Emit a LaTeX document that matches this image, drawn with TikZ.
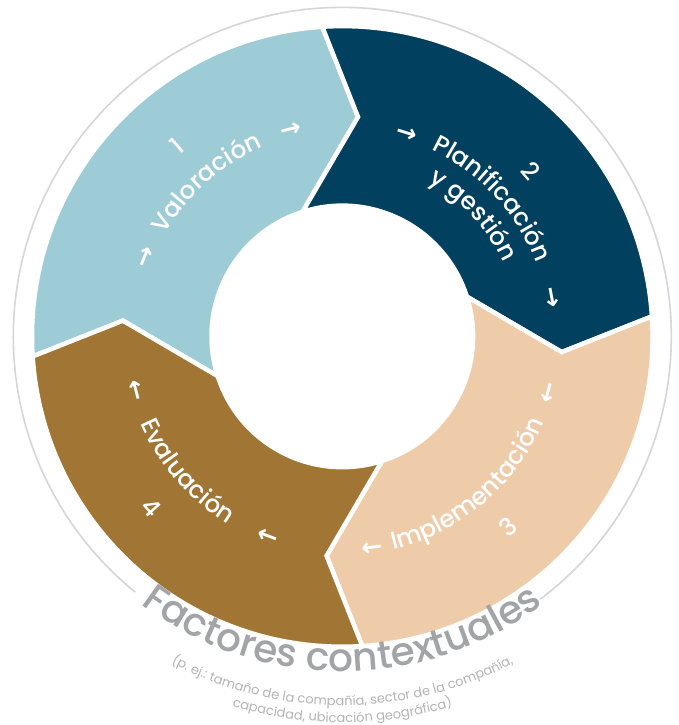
\documentclass[tikz,border=0pt]{standalone}
\usepackage{fontspec}
\setmainfont{Poppins}
\newfontfamily\segfamily{Poppins Medium}
\newfontfamily\arrowfont{DejaVu Sans}
\usetikzlibrary{decorations.text}

\definecolor{valblue}{RGB}{157,204,215}
\definecolor{planblue}{RGB}{1,65,95}
\definecolor{implpeach}{RGB}{238,203,169}
\definecolor{evalbrown}{RGB}{161,117,52}
\definecolor{ringgray}{RGB}{214,214,216}
\definecolor{titlegray}{RGB}{163,164,168}
\definecolor{notegray}{RGB}{180,180,184}

\newcommand{\segfont}{\segfamily\fontsize{24.5}{28}\selectfont}
\newcommand{\titlefont}{\segfamily\fontsize{39}{44}\selectfont}
\newcommand{\notefont}{\fontsize{13}{15}\selectfont}

\tikzset{
  segment/.style={draw=white,line width=4.5pt,line join=miter},
  arw/.style={text=white,font=\arrowfont\bfseries\fontsize{25}{25}\selectfont,inner sep=0pt},
  ringtext/.style={decorate,decoration={text along path,text align=center,text color=white,text={#1}}},
  graytext/.style 2 args={decorate,decoration={text along path,text align=center,text color=#1,text={#2}}},
}

\begin{document}
\begin{tikzpicture}[x=1pt,y=1pt]
\path[fill=white] (-342.3,-388.6) rectangle (335.7,336.4);
\useasboundingbox (-342.3,-388.6) rectangle (335.7,336.4);

% outer context ring
\draw[ringgray,line width=1.6pt] (-53:329) arc[start angle=-53,end angle=231,radius=329];

% the four stages
\foreach \a/\col in {93.7/valblue,3.7/planblue,-86.3/implpeach,183.7/evalbrown}{
  \pgfmathsetmacro{\b}{\a+90}
  \filldraw[segment,fill=\col] (\a:310.3) arc[start angle=\a,end angle=\b,radius=310.3]
    -- (\b-7.8:220) -- (\b+14:130.75) arc[start angle=\b+14,end angle=\a+14,radius=130.75]
    -- (\a-7.8:220) -- cycle;
}

% stage labels
\path[ringtext={|\segfont|1}] (151:243) arc[start angle=151,end angle=111,radius=243];
\path[ringtext={|\segfont|Valoración}] (171.5:205) arc[start angle=171.5,end angle=91.5,radius=205];
\path[ringtext={|\segfont|2}] (81.2:242) arc[start angle=81.2,end angle=1.2,radius=242];
\path[ringtext={|\segfont|Planificación}] (82.6:207) arc[start angle=82.6,end angle=2.6,radius=207];
\path[ringtext={|\segfont|y gestión}] (82.7:177) arc[start angle=82.7,end angle=2.7,radius=177];
\path[ringtext={|\segfont|Implementación}] (-94.8:219) arc[start angle=-94.8,end angle=-4.8,radius=219];
\path[ringtext={|\segfont|3}] (-89:261) arc[start angle=-89,end angle=-9,radius=261];
\path[ringtext={|\segfont|Evaluación}] (181:220) arc[start angle=181,end angle=261,radius=220];
\path[ringtext={|\segfont|4}] (181.9:265) arc[start angle=181.9,end angle=261.9,radius=265];

% flow arrows
\foreach \t [count=\i] in {104,158,72.4,10.6,-82,-15.3,194.8,249.5}
  \node[arw,rotate=\t-90] (arw\i) at (\t:212) {→};

% context caption
\path[graytext={titlegray}{|\titlefont|Factores contextuales}] (195:335) arc[start angle=195,end angle=345,radius=335];
\path[graytext={notegray}{|\notefont|(p. ej.: tamaño de la compañía, sector de la compañía,}] (205:369) arc[start angle=205,end angle=335,radius=369];
\path[graytext={notegray}{|\notefont|capacidad, ubicación geográfica)}] (225:386) arc[start angle=225,end angle=315,radius=386];
\end{tikzpicture}
\end{document}
